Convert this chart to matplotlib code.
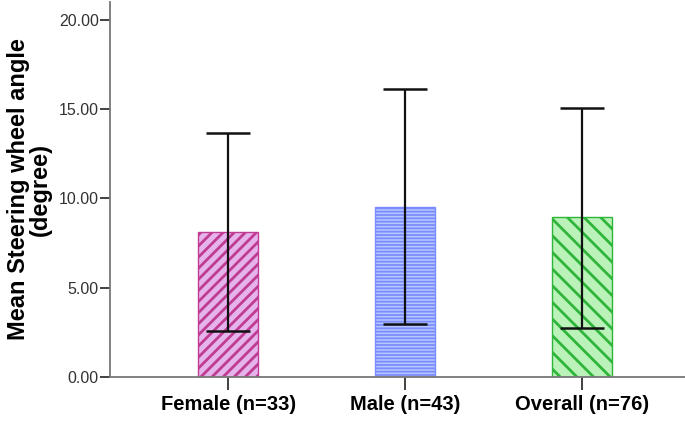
import matplotlib
matplotlib.use("Agg")
import matplotlib.pyplot as plt

# values
groups = ["Female (n=33)", "Male (n=43)", "Overall (n=76)"]
means = [8.12, 9.52, 8.96]
lower = [2.58, 2.97, 2.74]
upper = [13.67, 16.13, 15.07]
yticks = [0, 5, 10, 15, 20]

fills = ["#e6b4ec", "#b6c8ff", "#baf2ba"]
hatch_cols = ["#c03c94", "#7b8cff", "#2fb53a"]
hatches = ["///", "-----", "\\\\"]
hatch_lw = [2.0, 1.3, 2.0]

plt.rcParams["font.family"] = ["Liberation Sans", "DejaVu Sans"]

fig = plt.figure(figsize=(6.85, 4.21), dpi=100)
ax = fig.add_axes([0.1606, 0.1045, 0.8394, 0.8905])

x = list(range(len(groups)))
for i in x:
    # hatch width is picked up when the patch is made
    with plt.rc_context({"hatch.linewidth": hatch_lw[i]}):
        ax.bar(i, means[i], width=0.34, color=fills[i], edgecolor=hatch_cols[i],
               hatch=hatches[i], linewidth=1.0, zorder=2)

err_lo = [m - l for m, l in zip(means, lower)]
err_hi = [u - m for u, m in zip(upper, means)]
ax.errorbar(x, means, yerr=[err_lo, err_hi], fmt="none", ecolor="#111111",
            elinewidth=1.6, capsize=16, capthick=1.8, zorder=3)

ax.set_xlim(-0.667, 2.58)
ax.set_ylim(0, 21)
ax.set_yticks(yticks)
ax.set_yticklabels([f"{v:.2f}" for v in yticks], fontsize=11.5, color="#333333")
ax.set_xticks(x)
ax.set_xticklabels(groups, fontsize=14.5, fontweight="bold")
ax.set_ylabel("Mean Steering wheel angle\n(degree)", fontsize=17,
              fontweight="bold", linespacing=0.95, labelpad=5)

for s in ["top", "right"]:
    ax.spines[s].set_visible(False)
for s in ["left", "bottom"]:
    ax.spines[s].set_color("#777777")
    ax.spines[s].set_linewidth(1.3)
ax.tick_params(axis="y", length=7, width=1.3, color="#333333", pad=1)
ax.tick_params(axis="x", length=9, width=1.3, color="#333333", pad=4)

fig.savefig("out.png", dpi=100)
